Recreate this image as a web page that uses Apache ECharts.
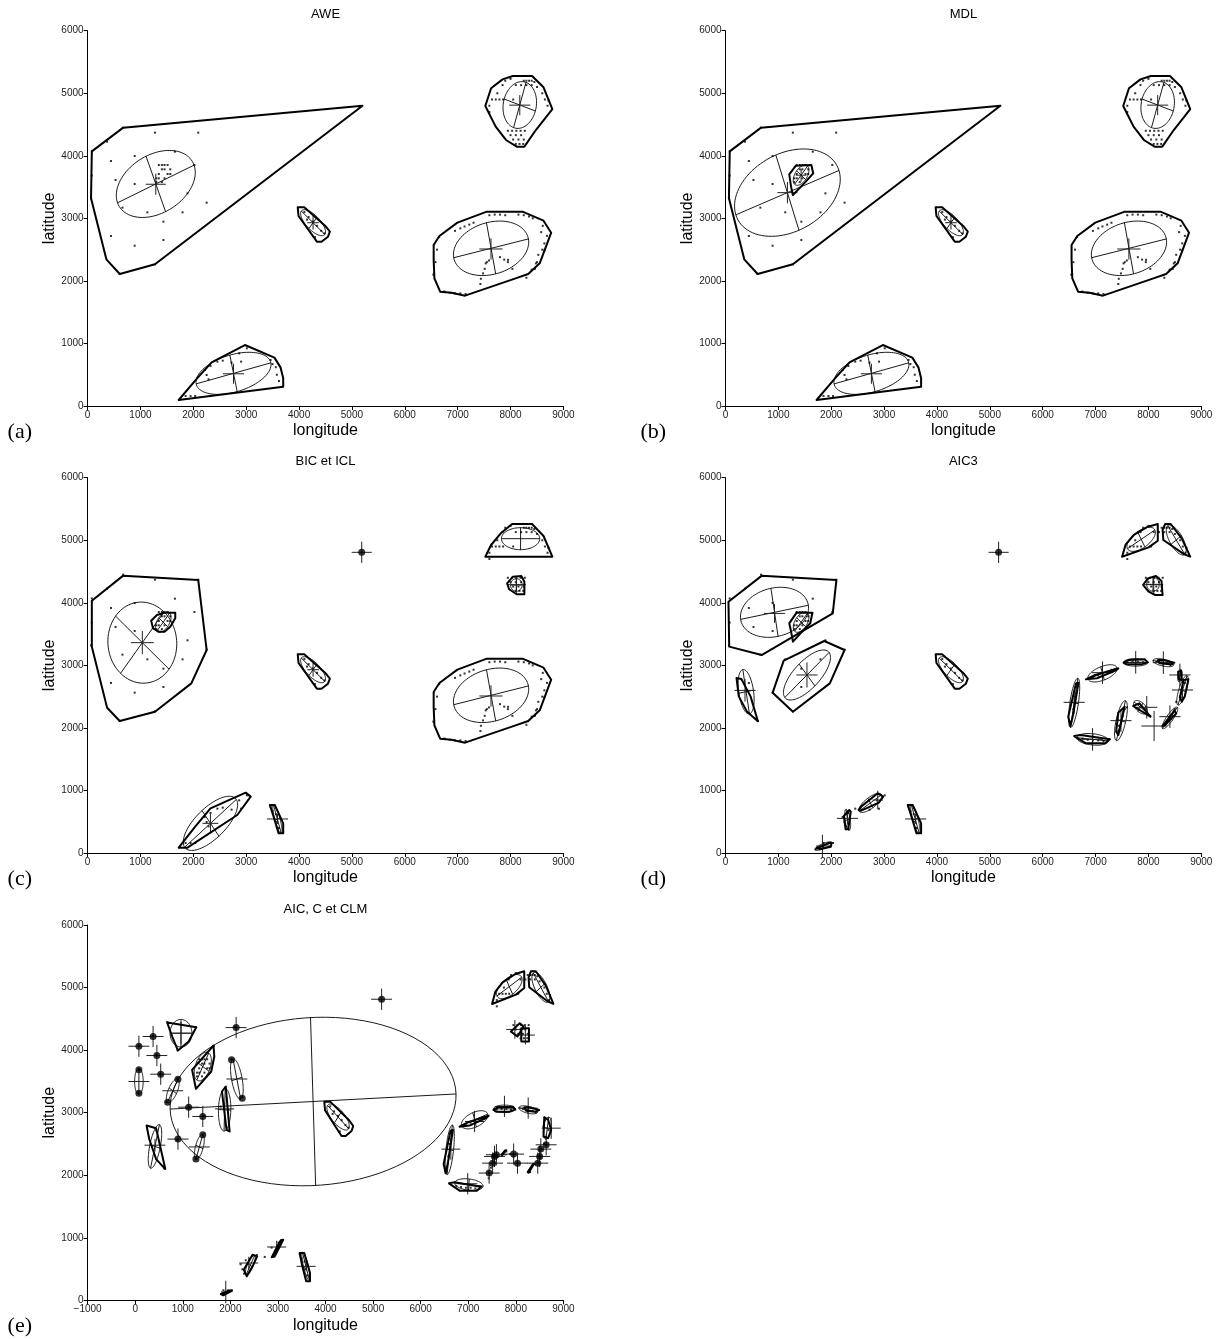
<!DOCTYPE html>
<html><head><meta charset="utf-8">
<script src="https://cdn.jsdelivr.net/npm/echarts@6/dist/echarts.min.js"></script>
<style>html,body{margin:0;padding:0;background:#fff}#c{width:1218px;height:1339px}</style>
</head><body><div id="c"></div>
<script>
// ---------- observations (longitude, latitude) ----------
const obsPoints = [
 [80,4070],[673,4450],[1274,4370],[2093,4370],[369,4226],[442,3917],[891,3997],[1651,4066],[529,3613],[891,3549],
 [2020,3853],[1890,3400],[2252,3251],[659,3171],[1130,3096],[1796,3096],[1434,2947],[442,2718],[891,2563],[1434,2654],
 [608,2110],[1274,2265],[65,3320],[78,3684],
 [1347,3853],[1405,3853],[1455,3853],[1513,3853],[1405,3784],[1455,3784],[1564,3784],[1347,3709],[1513,3709],[1564,3709],
 [1300,3640],[1347,3640],[1455,3640],[1405,3580],[1300,3580],
 [7900,5200],[8000,5230],[8250,5200],[8300,5200],[8350,5200],[8400,5200],[8450,5180],
 [7850,5130],[8100,5130],[8200,5130],[8300,5130],[8400,5130],[8500,5100],[7750,5000],[8600,5000],
 [7650,4900],[7720,4900],[7790,4900],[7860,4900],[8050,4900],[8650,4900],[8720,4880],[7600,4800],[8700,4800],[7600,4700],
 [7950,4400],[8030,4400],[8110,4400],[8190,4400],[8270,4400],[8000,4330],[8100,4330],[8200,4330],
 [8050,4260],[8150,4260],[8250,4260],[8100,4190],[8170,4190],[8240,4190],
 [4100,3100],[4180,3020],[4260,2950],[4340,2880],[4420,2800],[4480,2760],[4300,2700],[4150,2980],
 [6950,2800],[7050,2840],[7130,2870],[7220,2900],[7300,2930],[7600,3050],[7700,3060],[7800,3060],[7900,3050],
 [8150,3060],[8250,3050],[8350,3030],[8420,3000],[8580,2780],[8610,2880],[8600,2500],[8640,2600],[8690,2720],
 [6540,2100],[6580,2300],[6610,2500],[6650,2700],[6750,1830],[6850,1810],[6950,1800],[7050,1800],[7150,1790],
 [7430,1950],[7480,2120],[7530,2280],[7800,2380],[7880,2340],[7950,2300],[8300,2050],[8400,2180],[8480,2280],
 [7439,2034],[7512,2193],[7552,2300],[7592,2327],[7954,2337],[8035,2193],[8461,2193],[8501,2300],[8525,2417],[8638,2486],
 [1854,160],[1948,160],[2035,160],[2216,576],[2252,496],[2288,426],[2324,640],[2455,709],[2556,725],[2723,693],
 [2867,842],[2904,709],[3012,922],[3461,735],[3497,671],[3580,500],[3620,400],[3560,620]
];

// ---------- shared cluster outlines ----------
const hullMid = [[3975,3176],[4098,3176],[4496,2878],[4583,2787],[4547,2707],[4424,2627],[4337,2627],[3990,3038]];
const hullRight = [[6546,2574],[6654,2718],[6995,2931],[7552,3107],[8226,3107],[8624,2963],[8769,2771],[8552,2281],[8334,2110],[8095,2041],[7140,1764],[6886,1812],[6669,1828],[6560,2041],[6546,2334]];
const hullTopRight = [[7523,4796],[7632,5079],[7849,5222],[8045,5276],[8407,5276],[8624,5095],[8791,4748],[8479,4412],[8262,4146],[8117,4146],[7914,4253],[7719,4466]];
const hullLeftBig = [[80,4070],[673,4450],[5200,4800],[1274,2265],[608,2110],[355,2345],[65,3320]];
const hullBottom = [[1723,96],[2071,442],[2346,698],[2976,975],[3534,773],[3649,618],[3700,442],[3700,309]];
const hullSmallB = [[1206,3704],[1331,3842],[1624,3853],[1659,3720],[1519,3587],[1275,3374],[1240,3507]];
const hullSmallC = [[1202,3714],[1311,3805],[1455,3842],[1658,3842],[1658,3752],[1564,3618],[1455,3539],[1347,3539],[1238,3592]];
const hullTRsmall = [[7935,4312],[8045,4418],[8204,4429],[8262,4338],[8262,4137],[8116,4137],[7973,4217]];
const hullB4 = [[3447,767],[3541,767],[3700,474],[3700,314],[3613,314],[3519,581]];
const hullTRa = [[7501,4737],[7571,4935],[7724,5084],[7989,5217],[8177,5260],[8177,4993],[8003,4887]];
const hullTRb = [[8317,5260],[8421,5260],[8630,5031],[8791,4738],[8665,4781],[8282,5004],[8268,5164]];
const hullR1 = [[6818,2776],[6992,2846],[7431,2952],[7375,2915],[7026,2793]];
const hullR2 = [[7529,3043],[7619,3085],[7933,3096],[7989,3048],[7864,3016],[7585,3016]];
const hullR3 = [[8177,3085],[8282,3085],[8491,3043],[8407,3016],[8212,3032]];
const hullR6 = [[6629,2712],[6678,2723],[6574,2206],[6525,2030],[6483,2179]];
const hullR7 = [[6595,1870],[6713,1886],[7271,1817],[7180,1753],[6818,1753]];

// ---------- ellipses [cx, cy, semi-major, semi-minor, angle deg] ----------
const ellMid = [4265,2930,290,120,-40];
const ellRight = [7632,2521,722,418,12];
const ellTopRight = [8175,4812,380,310,72];
const ellBottom = [2760,522,726,300,13.4];
const ellSmall = [1430,3690,190,110,50];

// ---------- panel (a) AWE ----------
const hullsA = [hullLeftBig, hullTopRight, hullMid, hullRight, hullBottom];
const ellipsesA = [[1290,3550,784,480,22.6], ellTopRight, ellMid, ellRight, ellBottom];
const crossesA = [[1290,3545,190,170],[8175,4810,200,160],[4265,2930,110,110],[7630,2510,220,170],[2760,515,200,160]];
const singlesA = [];

// ---------- panel (b) MDL ----------
const hullsB = [hullLeftBig, hullSmallB, hullTopRight, hullMid, hullRight, hullBottom];
const ellipsesB = [[1171,3411,1038,640,20], ellSmall, ellTopRight, ellMid, ellRight, ellBottom];
const crossesB = [[1171,3411,190,170],[1430,3690,100,100],[8175,4810,200,160],[4265,2930,110,110],[7630,2510,220,170],[2760,515,200,160]];
const singlesB = [];

// ---------- panel (c) BIC et ICL ----------
const hullsC = [
 [[80,4034],[673,4434],[2093,4364],[2252,3245],[1962,2712],[1274,2259],[608,2110],[369,2323],[80,3299]],
 hullSmallC,
 [[7523,4738],[7632,4924],[7827,5121],[8030,5260],[8407,5260],[8624,5068],[8791,4738]],
 hullTRsmall, hullMid, hullRight,
 [[1723,85],[1890,85],[2831,608],[3085,901],[2990,965],[2324,714],[2035,421]],
 hullB4
];
const ellipsesC = [[1035,3363,660,640,-40], ellSmall, [8190,5025,362,176,0], [8110,4285,110,100,0], ellMid, ellRight, [2324,474,620,260,38], [3590,540,240,50,-72]];
const crossesC = [[1035,3363,217,186],[5185,4807,190,170],[8110,4290,180,140],[4265,2930,110,110],[7630,2510,220,170],[2324,474,150,150],[3592,544,200,80]];
const singlesC = [[5185,4807]];

// ---------- panel (d) AIC3 ----------
const hullsD = [
 [[56,4018],[688,4434],[2098,4364],[2029,3831],[683,3165],[70,3299]],
 [[1206,3672],[1345,3842],[1645,3842],[1603,3672],[1450,3539],[1276,3379],[1241,3539]],
 [[1101,3075],[1868,3389],[2252,3245],[1973,2712],[1276,2259],[892,2563]],
 [[209,2797],[300,2781],[474,2504],[613,2105],[404,2264],[251,2504]],
 hullMid, hullTRa, hullTRb,
 [[7898,4285],[7989,4391],[8142,4428],[8247,4348],[8268,4125],[8128,4125],[8003,4178]],
 [[1715,75],[1938,155],[2008,165],[1994,101],[1799,64]],
 [[2238,592],[2342,688],[2370,661],[2321,378],[2272,378]],
 [[2517,687],[2566,741],[2880,954],[2984,901],[2900,805],[2566,677]],
 hullB4,
 hullR1, hullR2, hullR3,
 [[8560,2899],[8616,2915],[8630,2766],[8575,2776]],
 [[8665,2766],[8756,2776],[8686,2499],[8630,2419],[8595,2488]],
 hullR6, hullR7,
 [[7431,2244],[7550,2339],[7431,1886],[7389,1940]],
 [[7710,2350],[7829,2393],[8038,2180]],
 [[8268,2030],[8491,2275],[8526,2233],[8317,2046]]
];
const ellipsesD = [[927,3848,650,390,10], ellSmall, [1541,2846,552,230,40.7], [390,2579,360,140,-80], ellMid,
 [7863,5015,300,140,30], [8526,5004,280,120,-55], [8086,4295,120,110,0],
 [1850,110,170,40,20], [2310,530,170,50,-80], [2740,800,250,90,32], [3590,540,240,50,-72],
 [7131,2872,290,110,18], [7759,3048,230,60,0], [8282,3043,200,55,-10], [8595,2835,100,40,80], [8644,2600,250,70,70],
 [6595,2400,400,80,80], [6943,1817,300,90,-5], [7480,2116,330,90,75], [7850,2330,150,80,-35], [8407,2160,220,60,50]];
const crossesD = [[927,3830,200,150],[1541,2846,200,200],[369,2600,200,180],[5166,4807,190,170],[8100,4290,180,140],
 [1833,112,120,180],[2307,554,200,100],[2880,847,100,150],[3597,544,200,80],
 [7131,2883,200,180],[7759,3048,200,180],[8282,3043,200,180],[8595,2846,200,180],[8644,2606,200,180],
 [6595,2409,200,180],[6943,1817,200,180],[7480,2116,200,180],[7968,2329,200,180],[8407,2180,200,180],[8107,2030,240,240]];
const singlesD = [[5166,4807]];

// ---------- panel (e) AIC, C et CLM ----------
const hullsE = [
 [[673,4440],[1285,4365],[1124,4137],[899,3993],[778,4217]],
 [[1196,3684],[1647,4073],[1663,3897],[1598,3658],[1277,3381]],
 [[1824,3338],[1904,3418],[1985,2699],[1920,2726]],
 [[239,2795],[440,2752],[633,2098],[440,2258],[295,2578]],
 hullMid, hullTRa, hullTRb,
 [[7898,4296],[8083,4430],[8163,4376],[8035,4217]],
 [[8115,4350],[8276,4350],[8276,4137],[8115,4137]],
 hullR1, hullR2, hullR3,
 [[8598,2928],[8678,2886],[8743,2726],[8678,2593],[8582,2619]],
 hullR6, hullR7,
 [[7710,2320],[7800,2400],[7780,2400],[7700,2330]],
 [[8270,2040],[8380,2180],[8360,2180],[8250,2050]],
 [[1800,100],[2000,160],[2030,150],[1850,80]],
 [[2282,490],[2467,729],[2564,703],[2484,570],[2346,383]],
 [[2870,687],[3060,960],[3111,969],[2930,700]],
 [[3457,756],[3554,756],[3674,437],[3674,303],[3594,303],[3513,543]]
];
const ellipsesE = [[3739,3178,3007,1343,2.3],[963,4270,230,220,0],[1421,3737,250,150,60],[1880,3045,340,130,88],[416,2460,360,110,75],
 [78,3498,210,90,90],[790,3350,215,90,59],[2137,3538,330,110,-76],[1349,2452,210,80,70],
 ellMid,[7863,5015,300,140,30],[8526,5004,280,120,-55],
 [7133,2886,290,120,18],[7761,3061,230,60,0],[8260,3045,200,55,-10],[8662,2752,180,80,80],[6611,2406,400,80,82],[7013,1850,300,90,-5],
 [2420,560,180,60,60],[2990,830,170,30,55],[3590,540,240,50,-72]];
const crossesE = [[963,4270,200,180],[1880,3060,200,100],[416,2480,220,100],
 [78,3498,220,0],[790,3350,220,0],[2137,3538,220,0],[1349,2452,220,0],
 [7980,4330,180,150],[8200,4240,200,150],
 [7133,2859,200,170],[7761,3099,200,170],[8260,3072,200,170],[8743,2752,200,170],[6635,2417,200,170],[6989,1863,200,170],
 [1904,133,100,180],[2387,596,200,100],[2974,852,200,100],[3594,543,200,80],
 [78,4062,220,170],[376,4217,220,170],[456,3913,220,170],[537,3615,220,170],[2122,4360,220,170],[5179,4813,220,170],
 [1124,3088,220,170],[1421,2939,220,170],[899,2577,220,170],
 [7439,2034,220,170],[7512,2193,220,170],[7552,2300,220,170],[7592,2327,220,170],[7954,2337,220,170],
 [8035,2193,220,170],[8461,2193,220,170],[8501,2300,220,170],[8525,2417,220,170],[8638,2486,220,170]];
const singlesE = [[78,4062],[376,4217],[456,3913],[537,3615],[2122,4360],[5179,4813],[1124,3088],[1421,2939],[899,2577],
 [78,3684],[78,3312],[682,3168],[899,3535],[2025,3844],[2250,3232],[1277,2257],[1421,2646],
 [7439,2034],[7512,2193],[7552,2300],[7592,2327],[7954,2337],[8035,2193],[8461,2193],[8501,2300],[8525,2417],[8638,2486]];

// ---------- axes ----------
const titles = ['AWE','MDL','BIC et ICL','AIC3','AIC, C et CLM'];
const letters = ['(a)','(b)','(c)','(d)','(e)'];
const xMins = [0,0,0,0,-1000];
const xMax = 9000, yMin = 0, yMax = 6000, tickStep = 1000;

const panels = [
 {left:87.6, top:30.7, hulls:hullsA, ells:ellipsesA, crosses:crossesA, singles:singlesA},
 {left:725.5, top:30.7, hulls:hullsB, ells:ellipsesB, crosses:crossesB, singles:singlesB},
 {left:87.6, top:477.7, hulls:hullsC, ells:ellipsesC, crosses:crossesC, singles:singlesC},
 {left:725.5, top:477.7, hulls:hullsD, ells:ellipsesD, crosses:crossesD, singles:singlesD},
 {left:87.6, top:925, hulls:hullsE, ells:ellipsesE, crosses:crossesE, singles:singlesE}
];
const GW = 475.8, GH = 375.3;
const FONT = "'Liberation Sans', Arial, sans-serif";
const fmt = v => (v < 0 ? '\u2212' + Math.abs(v) : String(v));

function hullRender(hulls){
  return function(params, api){
    const h = hulls[api.value(2)];
    return {type:'polygon', shape:{points:h.map(p=>api.coord(p))},
      style:{fill:null, stroke:'#000', lineWidth:2, lineJoin:'round'}};
  };
}
function ellRender(params, api){
  const cx=api.value(0), cy=api.value(1), a=api.value(2), b=api.value(3), th=api.value(4)*Math.PI/180;
  const c=Math.cos(th), s=Math.sin(th);
  const pts=[];
  for(let k=0;k<=90;k++){const t=k/90*2*Math.PI; const u=a*Math.cos(t), v=b*Math.sin(t); pts.push(api.coord([cx+u*c-v*s, cy+u*s+v*c]));}
  const p1=api.coord([cx-a*c, cy-a*s]), p2=api.coord([cx+a*c, cy+a*s]);
  const q1=api.coord([cx+b*s, cy-b*c]), q2=api.coord([cx-b*s, cy+b*c]);
  const st={stroke:'#000', lineWidth:0.9, fill:null};
  return {type:'group', children:[
    {type:'polyline', shape:{points:pts}, style:st},
    {type:'line', shape:{x1:p1[0],y1:p1[1],x2:p2[0],y2:p2[1]}, style:st},
    {type:'line', shape:{x1:q1[0],y1:q1[1],x2:q2[0],y2:q2[1]}, style:st}
  ]};
}
function crossRender(params, api){
  const x=api.value(0), y=api.value(1), dx=api.value(2), dy=api.value(3);
  const h1=api.coord([x-dx,y]), h2=api.coord([x+dx,y]), v1=api.coord([x,y-dy]), v2=api.coord([x,y+dy]);
  const st={stroke:'#222', lineWidth:1};
  return {type:'group', children:[
    {type:'line', shape:{x1:h1[0],y1:h1[1],x2:h2[0],y2:h2[1]}, style:st},
    {type:'line', shape:{x1:v1[0],y1:v1[1],x2:v2[0],y2:v2[1]}, style:st}
  ]};
}

const grid=[], xAxis=[], yAxis=[], series=[], graphic=[];
panels.forEach((p,i)=>{
  grid.push({left:p.left, top:p.top, width:GW, height:GH, containLabel:false});
  xAxis.push({gridIndex:i, type:'value', min:xMins[i], max:xMax, interval:tickStep,
    axisLine:{show:true, onZero:false, lineStyle:{color:'#000', width:1}},
    axisTick:{show:true, inside:false, length:4, lineStyle:{color:'#000'}},
    axisLabel:{fontSize:10, color:'#222', margin:4, fontFamily:FONT, showMinLabel:true, showMaxLabel:true, formatter:fmt},
    splitLine:{show:false},
    name:'longitude', nameLocation:'middle', nameGap:17,
    nameTextStyle:{fontSize:16, color:'#000', fontFamily:FONT}});
  yAxis.push({gridIndex:i, type:'value', min:yMin, max:yMax, interval:tickStep,
    axisLine:{show:true, onZero:false, lineStyle:{color:'#000', width:1}},
    axisTick:{show:true, inside:false, length:4, lineStyle:{color:'#000'}},
    axisLabel:{fontSize:10, color:'#222', margin:4, fontFamily:FONT, formatter:fmt},
    splitLine:{show:false},
    name:'latitude', nameLocation:'middle', nameGap:28,
    nameTextStyle:{fontSize:16, color:'#000', fontFamily:FONT}});
  series.push({type:'scatter', xAxisIndex:i, yAxisIndex:i, data:obsPoints, symbol:'rect', symbolSize:2,
    itemStyle:{color:'#000'}, silent:true, z:2});
  series.push({type:'custom', xAxisIndex:i, yAxisIndex:i, silent:true, z:4, clip:false,
    data:p.hulls.map((h,k)=>[h[0][0],h[0][1],k]), encode:{x:0,y:1}, renderItem:hullRender(p.hulls)});
  series.push({type:'custom', xAxisIndex:i, yAxisIndex:i, silent:true, z:3, clip:false,
    data:p.ells, encode:{x:0,y:1}, renderItem:ellRender});
  series.push({type:'custom', xAxisIndex:i, yAxisIndex:i, silent:true, z:3, clip:false,
    data:p.crosses, encode:{x:0,y:1}, renderItem:crossRender});
  if(p.singles.length) series.push({type:'scatter', xAxisIndex:i, yAxisIndex:i, data:p.singles,
    symbol:'circle', symbolSize:7, itemStyle:{color:'#000'}, silent:true, z:5});
  graphic.push({type:'text', x:p.left+GW/2, y:p.top-16, silent:true,
    style:{text:titles[i], font:"13px "+FONT, fill:'#000', align:'center', textAlign:'center', verticalAlign:'middle', textVerticalAlign:'middle'}});
  graphic.push({type:'text', x:p.left-80+ (i%2===1? -5:0), y:p.top+GH+26, silent:true,
    style:{text:letters[i], font:"22px 'Liberation Serif', 'Times New Roman', serif", fill:'#000', align:'left', textAlign:'left', verticalAlign:'middle', textVerticalAlign:'middle'}});
});

const chart = echarts.init(document.getElementById('c'), null, {renderer:'canvas'});
chart.setOption({animation:false, backgroundColor:'#fff', grid, xAxis, yAxis, series, graphic});
</script></body></html>
